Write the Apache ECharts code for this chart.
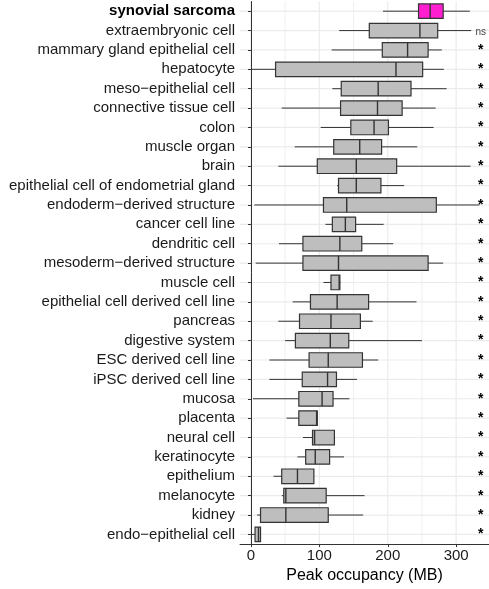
<!DOCTYPE html>
<html><head><meta charset="utf-8">
<script src="https://cdn.jsdelivr.net/npm/echarts@6/dist/echarts.min.js"></script>
<style>html,body{margin:0;padding:0;background:#fff}#c{width:489px;height:589px}</style>
</head><body><div id="c"></div>
<script>
const categories = [
  'synovial sarcoma','extraembryonic cell','mammary gland epithelial cell','hepatocyte',
  'meso\u2212epithelial cell','connective tissue cell','colon','muscle organ','brain',
  'epithelial cell of endometrial gland','endoderm\u2212derived structure','cancer cell line',
  'dendritic cell','mesoderm\u2212derived structure','muscle cell','epithelial cell derived cell line',
  'pancreas','digestive system','ESC derived cell line','iPSC derived cell line','mucosa',
  'placenta','neural cell','keratinocyte','epithelium','melanocyte','kidney','endo\u2212epithelial cell'
];
const whiskerLow  = [193,129,118,  1,119, 45,102, 64, 40,126,  5,109, 41,  7,106, 61, 40, 50, 27, 27,  3, 52, 76, 68, 33, 45,  9, 1.5];
const q1          = [245,173,192, 36,132,131,146,121, 97,128,106,119, 76, 76,117, 87, 71, 65, 85, 75, 70, 70, 90, 80, 45, 48, 14, 6];
const median      = [262,247,229,212,186,185,180,159,154,154,140,138,130,128,129,126,117,116,113,112,104, 96, 93, 94, 68, 51, 51, 11];
const q3          = [281,273,259,251,234,221,201,191,213,190,271,153,162,259,130,172,160,143,163,125,120, 97,122,115, 92,110,113, 14];
const whiskerHigh = [320,322,279,282,286,270,267,243,321,224,334,194,208,281,131,242,178,250,186,155,144, 98,123,136, 92,166,164, 14];
const significance = ['','ns','*','*','*','*','*','*','*','*','*','*','*','*','*','*','*','*','*','*','*','*','*','*','*','*','*','*'];
const xTickValues = [0,100,200,300];
const xGridValues = [0,50,100,150,200,250,300];
const xMin = -16, xMax = 348, annotX = 336;

const FONT = "'Liberation Sans', Arial, Helvetica, sans-serif";
const boxData = categories.map((c, i) => [i, whiskerLow[i], q1[i], median[i], q3[i], whiskerHigh[i]]);
const annotData = categories.map((c, i) => [annotX, i, significance[i]]);

const chart = echarts.init(document.getElementById('c'), null, {renderer: 'canvas'});
chart.setOption({
  animation: false,
  backgroundColor: '#ffffff',
  grid: {left: 240, top: 1.5, width: 249, height: 543, containLabel: false},
  xAxis: {
    type: 'value', min: xMin, max: xMax,
    axisLine: {show: true, onZero: false, lineStyle: {color: '#333', width: 1}},
    axisTick: {show: true, length: 3, customValues: xTickValues, lineStyle: {color: '#333'}},
    axisLabel: {customValues: xTickValues, fontSize: 15, color: '#1a1a1a', fontFamily: FONT, margin: 4},
    splitLine: {show: false},
    name: 'Peak occupancy (MB)', nameLocation: 'middle', nameGap: 22,
    nameTextStyle: {fontSize: 16, color: '#000', fontFamily: FONT}
  },
  yAxis: {
    type: 'category', data: categories, inverse: true,
    axisLine: {show: true, lineStyle: {color: '#333', width: 1}},
    axisTick: {show: true, alignWithLabel: true, length: 3, lineStyle: {color: '#333'}},
    axisLabel: {
      fontSize: 15, color: '#1a1a1a', fontFamily: FONT, margin: 5, interval: 0,
      formatter: (v, i) => i === 0 ? '{b|' + v + '}' : v,
      rich: {b: {fontWeight: 'bold', fontSize: 15, color: '#000', fontFamily: FONT}}
    },
    splitLine: {show: false}
  },
  series: [
    {
      type: 'custom', z: 0, silent: true,
      data: xGridValues.map(v => [v]),
      encode: {x: 0},
      renderItem: (params, api) => {
        const cs = params.coordSys;
        const v = api.value(0);
        const x = api.coord([v, 0])[0];
        const major = v % 100 === 0;
        return {type: 'line', shape: {x1: x, y1: cs.y, x2: x, y2: cs.y + cs.height},
          style: {stroke: '#ebebeb', lineWidth: major ? 1.2 : 0.8}};
      }
    },
    {
      type: 'custom', z: 0, silent: true,
      data: categories.map((c, i) => [0, i]),
      encode: {x: 0, y: 1},
      renderItem: (params, api) => {
        const cs = params.coordSys;
        const y = api.coord([0, api.value(1)])[1];
        return {type: 'line', shape: {x1: cs.x, y1: y, x2: cs.x + cs.width, y2: y},
          style: {stroke: '#ebebeb', lineWidth: 1.2}};
      }
    },
    {
      type: 'custom', z: 2, silent: true,
      data: boxData,
      encode: {y: 0, x: [1, 2, 3, 4, 5]},
      renderItem: (params, api) => {
        const i = api.value(0);
        const pLo = api.coord([api.value(1), i]);
        const pQ1 = api.coord([api.value(2), i]);
        const pMed = api.coord([api.value(3), i]);
        const pQ3 = api.coord([api.value(4), i]);
        const pHi = api.coord([api.value(5), i]);
        const h = api.size([0, 1])[1] * 0.75;
        const y = pMed[1];
        const fill = i === 0 ? '#ff1fd0' : '#bebebe';
        const stroke = '#333333';
        return {type: 'group', children: [
          {type: 'line', shape: {x1: pLo[0], y1: y, x2: pQ1[0], y2: y}, style: {stroke, lineWidth: 1}},
          {type: 'line', shape: {x1: pQ3[0], y1: y, x2: pHi[0], y2: y}, style: {stroke, lineWidth: 1}},
          {type: 'rect', shape: {x: pQ1[0], y: y - h / 2, width: pQ3[0] - pQ1[0], height: h},
            style: {fill, stroke, lineWidth: 1.2}},
          {type: 'line', shape: {x1: pMed[0], y1: y - h / 2, x2: pMed[0], y2: y + h / 2}, style: {stroke, lineWidth: 1.4}}
        ]};
      }
    },
    {
      type: 'custom', z: 3, silent: true,
      data: annotData,
      encode: {x: 0, y: 1},
      renderItem: (params, api) => {
        const p = api.coord([api.value(0), api.value(1)]);
        const t = significance[params.dataIndex];
        const isNs = t === 'ns';
        return {type: 'text', x: p[0], y: p[1] + (isNs ? 2 : 0),
          style: {text: t, textAlign: 'center', textVerticalAlign: 'middle',
            font: (isNs ? '10px ' : 'bold 14px ') + FONT, fill: isNs ? '#444' : '#000'}};
      }
    }
  ]
});
</script>
</body></html>
